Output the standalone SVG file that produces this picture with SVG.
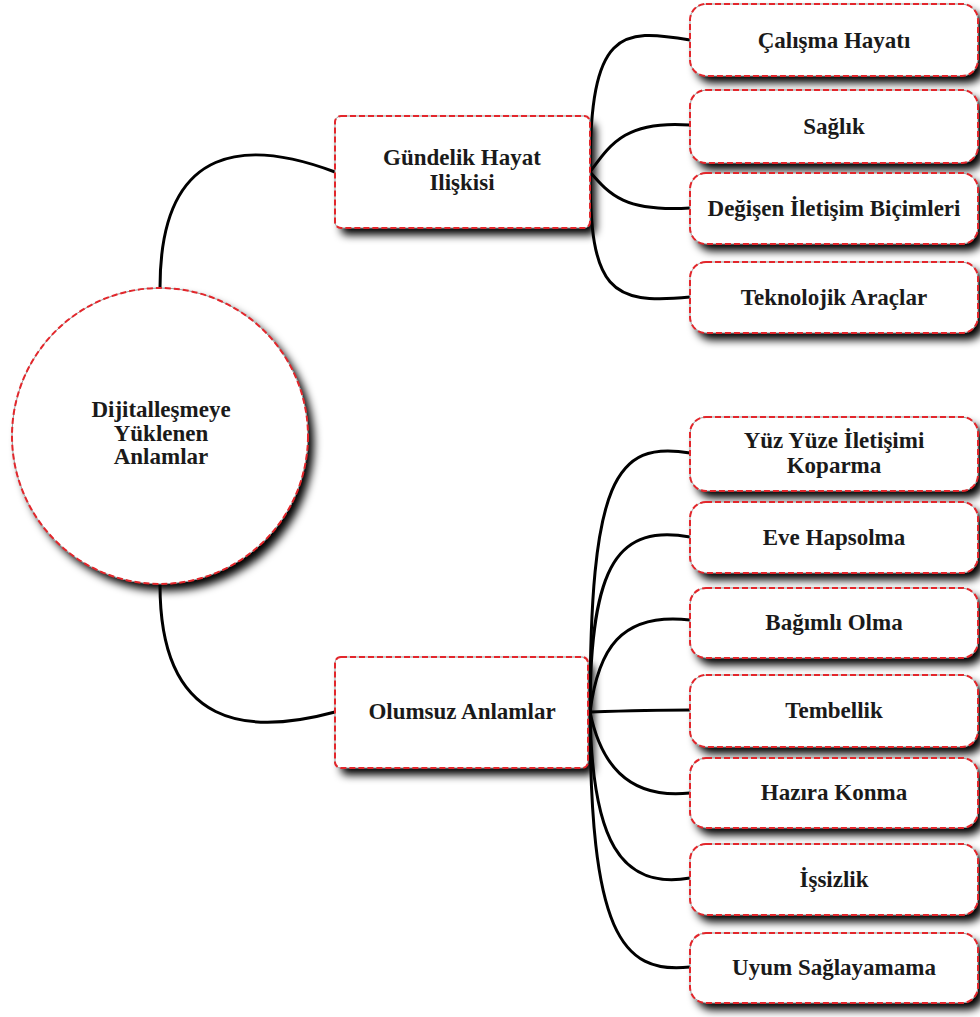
<svg xmlns="http://www.w3.org/2000/svg" width="980" height="1017" viewBox="0 0 980 1017">
<defs>
<filter id="sh" x="-10%" y="-10%" width="130%" height="140%">
<feDropShadow dx="6" dy="7" stdDeviation="4" flood-color="#000" flood-opacity="1"/>
</filter>
<style>
.n{fill:#fff;filter:url(#sh)}
.b{fill:none;stroke:#9a9a9a;stroke-width:1}
.d{fill:none;stroke:#e3262b;stroke-width:2;stroke-dasharray:6 3}
.c{fill:none;stroke:#000;stroke-width:3;stroke-linecap:round}
.t{font-family:"Liberation Serif","Times New Roman",serif;font-weight:bold;font-size:23px;fill:#1a1a1a;text-anchor:middle}
</style>
</defs>
<rect width="980" height="1017" fill="#fff"/>
<g id="connectors">
<path class="c" d="M160,288 C160,140 250,140 335,172"/>
<path class="c" d="M160,585 C160,730 250,735 335,712"/>
<path class="c" d="M590,172 C590,30 620,28 690,40"/>
<path class="c" d="M590,172 C610,145 625,120 690,125"/>
<path class="c" d="M590,172 C610,195 625,212 690,208"/>
<path class="c" d="M590,172 C590,290 610,305 690,297"/>
<path class="c" d="M590,712 C590,480 615,440 690,453"/>
<path class="c" d="M590,712 C590,560 620,525 690,537"/>
<path class="c" d="M590,712 C598,650 620,612 690,620"/>
<path class="c" d="M590,712 C620,711 650,710 690,710"/>
<path class="c" d="M590,712 C600,760 625,800 690,793"/>
<path class="c" d="M590,712 C592,840 620,890 690,878"/>
<path class="c" d="M590,712 C590,930 620,975 690,967"/>
</g>
<g id="root">
<circle class="n" cx="160" cy="436" r="148"/>
<circle class="b" cx="160" cy="436" r="148"/>
<circle class="d" cx="160" cy="436" r="148"/>
<text class="t" x="161" y="417">Dijitalleşmeye</text>
<text class="t" x="161" y="441">Yüklenen</text>
<text class="t" x="161" y="464">Anlamlar</text>
</g>
<g id="gundelik">
<rect class="n" x="335" y="116" width="255" height="112" rx="6"/>
<rect class="b" x="335" y="116" width="255" height="112" rx="6"/>
<rect class="d" x="335" y="116" width="255" height="112" rx="6"/>
<text class="t" x="462" y="165">Gündelik Hayat</text>
<text class="t" x="462" y="190">Ilişkisi</text>
</g>
<g id="olumsuz">
<rect class="n" x="335" y="657" width="253" height="111" rx="6"/>
<rect class="b" x="335" y="657" width="253" height="111" rx="6"/>
<rect class="d" x="335" y="657" width="253" height="111" rx="6"/>
<text class="t" x="462" y="719">Olumsuz Anlamlar</text>
</g>
<g id="calisma">
<rect class="n" x="690" y="4" width="288" height="72" rx="16"/>
<rect class="b" x="690" y="4" width="288" height="72" rx="16"/>
<rect class="d" x="690" y="4" width="288" height="72" rx="16"/>
<text class="t" x="834" y="48">Çalışma Hayatı</text>
</g>
<g id="saglik">
<rect class="n" x="690" y="90" width="288" height="73" rx="16"/>
<rect class="b" x="690" y="90" width="288" height="73" rx="16"/>
<rect class="d" x="690" y="90" width="288" height="73" rx="16"/>
<text class="t" x="834" y="134">Sağlık</text>
</g>
<g id="degisen">
<rect class="n" x="690" y="173" width="288" height="71" rx="16"/>
<rect class="b" x="690" y="173" width="288" height="71" rx="16"/>
<rect class="d" x="690" y="173" width="288" height="71" rx="16"/>
<text class="t" x="834" y="216">Değişen İletişim Biçimleri</text>
</g>
<g id="teknolojik">
<rect class="n" x="690" y="262" width="288" height="71" rx="16"/>
<rect class="b" x="690" y="262" width="288" height="71" rx="16"/>
<rect class="d" x="690" y="262" width="288" height="71" rx="16"/>
<text class="t" x="834" y="305">Teknolojik Araçlar</text>
</g>
<g id="yuzyuze">
<rect class="n" x="690" y="417" width="288" height="74" rx="16"/>
<rect class="b" x="690" y="417" width="288" height="74" rx="16"/>
<rect class="d" x="690" y="417" width="288" height="74" rx="16"/>
<text class="t" x="834" y="448">Yüz Yüze İletişimi</text>
<text class="t" x="834" y="473">Koparma</text>
</g>
<g id="eve">
<rect class="n" x="690" y="502" width="288" height="71" rx="16"/>
<rect class="b" x="690" y="502" width="288" height="71" rx="16"/>
<rect class="d" x="690" y="502" width="288" height="71" rx="16"/>
<text class="t" x="834" y="545">Eve Hapsolma</text>
</g>
<g id="bagimli">
<rect class="n" x="690" y="588" width="288" height="70" rx="16"/>
<rect class="b" x="690" y="588" width="288" height="70" rx="16"/>
<rect class="d" x="690" y="588" width="288" height="70" rx="16"/>
<text class="t" x="834" y="630">Bağımlı Olma</text>
</g>
<g id="tembellik">
<rect class="n" x="690" y="675" width="288" height="72" rx="16"/>
<rect class="b" x="690" y="675" width="288" height="72" rx="16"/>
<rect class="d" x="690" y="675" width="288" height="72" rx="16"/>
<text class="t" x="834" y="718">Tembellik</text>
</g>
<g id="hazira">
<rect class="n" x="690" y="758" width="288" height="70" rx="16"/>
<rect class="b" x="690" y="758" width="288" height="70" rx="16"/>
<rect class="d" x="690" y="758" width="288" height="70" rx="16"/>
<text class="t" x="834" y="800">Hazıra Konma</text>
</g>
<g id="issizlik">
<rect class="n" x="690" y="844" width="288" height="71" rx="16"/>
<rect class="b" x="690" y="844" width="288" height="71" rx="16"/>
<rect class="d" x="690" y="844" width="288" height="71" rx="16"/>
<text class="t" x="834" y="887">İşsizlik</text>
</g>
<g id="uyum">
<rect class="n" x="690" y="933" width="288" height="70" rx="16"/>
<rect class="b" x="690" y="933" width="288" height="70" rx="16"/>
<rect class="d" x="690" y="933" width="288" height="70" rx="16"/>
<text class="t" x="834" y="975">Uyum Sağlayamama</text>
</g>
</svg>
